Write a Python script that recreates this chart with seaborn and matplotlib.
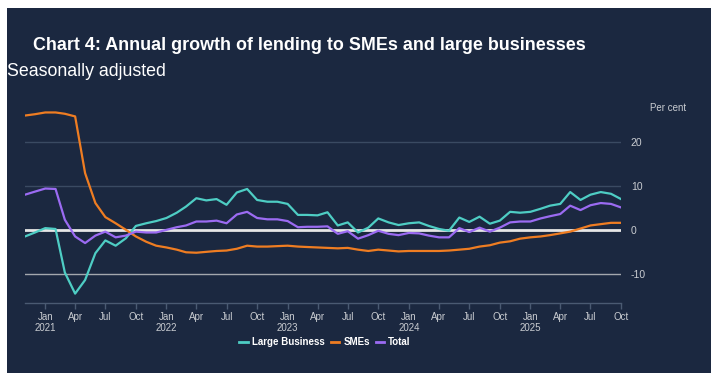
import seaborn as sns
import matplotlib.pyplot as plt
import pandas as pd

# Monthly data, Nov 2020 to Oct 2025 (annual growth, per cent)
months = pd.date_range('2020-11-01', '2025-10-01', freq='MS')

large_business = [
    -1.5, -0.6,
    0.4, 0.2, -9.7, -14.5, -11.4, -5.3, -2.4, -3.6, -1.9, 0.9, 1.5, 2.0,
    2.7, 3.9, 5.3, 7.2, 6.7, 7.0, 5.7, 8.5, 9.3, 6.8, 6.4, 6.4,
    5.9, 3.4, 3.4, 3.3, 4.0, 1.0, 1.7, -0.6, 0.5, 2.6, 1.7, 1.1,
    1.5, 1.7, 0.9, 0.2, -0.2, 2.8, 1.8, 3.0, 1.4, 2.1, 4.1, 3.9,
    4.1, 4.8, 5.5, 5.9, 8.6, 6.8, 8.0, 8.6, 8.2, 7.0,
]
smes = [
    26.0, 26.3,
    26.7, 26.7, 26.4, 25.8, 12.9, 6.1, 2.9, 1.5, 0.0, -1.5, -2.7, -3.6,
    -4.0, -4.5, -5.1, -5.2, -5.0, -4.8, -4.7, -4.3, -3.6, -3.8, -3.8, -3.7,
    -3.6, -3.8, -3.9, -4.0, -4.1, -4.2, -4.1, -4.5, -4.8, -4.5, -4.7, -4.9,
    -4.8, -4.8, -4.8, -4.8, -4.7, -4.5, -4.3, -3.8, -3.5, -2.9, -2.6, -2.0,
    -1.7, -1.5, -1.2, -0.8, -0.4, 0.3, 1.0, 1.3, 1.6, 1.6,
]
total = [
    8.0, 8.7,
    9.4, 9.3, 2.3, -1.5, -3.0, -1.3, -0.4, -1.7, -1.3, -0.4, -0.6, -0.6,
    0.0, 0.6, 1.0, 1.9, 1.9, 2.1, 1.5, 3.5, 4.1, 2.7, 2.4, 2.4,
    2.0, 0.6, 0.7, 0.7, 0.8, -0.9, -0.3, -2.0, -1.2, -0.2, -0.9, -1.2,
    -0.7, -0.8, -1.3, -1.7, -1.7, 0.4, -0.5, 0.5, -0.4, 0.5, 1.7, 1.9,
    1.9, 2.6, 3.1, 3.6, 5.5, 4.5, 5.6, 6.1, 5.9, 5.1,
]
series_names = ['Large Business', 'SMEs', 'Total']
y_ticks = [-10, 0, 10, 20]

df = pd.DataFrame({'Month': months, 'Large Business': large_business,
                   'SMEs': smes, 'Total': total})
long_df = df.melt(id_vars='Month', var_name='Series', value_name='Growth')

bg = '#1b2840'
palette = {'Large Business': '#4ecdc4', 'SMEs': '#ef7d22', 'Total': '#9b6bf2'}

plt.rcParams['font.family'] = ['Liberation Sans', 'DejaVu Sans']

fig = plt.figure(figsize=(7.11, 3.81), dpi=100, facecolor='white')

# dark panel behind everything
bg_ax = fig.add_axes([7 / 711, 1 - 373 / 381, 1, (373 - 8) / 381])
bg_ax.set_facecolor(bg)
bg_ax.set_xticks([])
bg_ax.set_yticks([])
for s in bg_ax.spines.values():
    s.set_visible(False)

ax = fig.add_axes([25 / 711, 1 - 303.3 / 381, (621 - 25) / 711, (303.3 - 108.5) / 381])
ax.set_facecolor(bg)
ax.patch.set_alpha(0)

# horizontal reference lines
ax.axhline(20, color='#3a4a62', lw=1, zorder=1)
ax.axhline(10, color='#3a4a62', lw=1, zorder=1)
ax.axhline(-10, color='#a3a7ad', lw=1, zorder=1)
ax.axhline(0, color='#e6e6e6', lw=2, zorder=1)

sns.lineplot(data=long_df, x='Month', y='Growth', hue='Series', hue_order=series_names,
             palette=palette, linewidth=1.6, ax=ax, legend=False, zorder=3)

ax.set_xlim(months[0], months[-1])
ax.set_ylim(-16.7, 27.6)
ax.set_xlabel('')
ax.set_ylabel('')

# x axis: quarterly ticks with year under January
qticks = [m for m in months if m.month in (1, 4, 7, 10)]
qlabels = [m.strftime('%b') + ('\n' + str(m.year) if m.month == 1 else '') for m in qticks]
ax.set_xticks(qticks)
ax.set_xticklabels(qlabels)
ax.tick_params(axis='x', colors='#4a5a72', length=4, width=1, labelcolor='#c9ccd1',
               labelsize=7, pad=2)

ax.yaxis.tick_right()
ax.set_yticks(y_ticks)
ax.set_yticklabels([str(v) for v in y_ticks])
ax.tick_params(axis='y', length=0, labelcolor='#c9ccd1', labelsize=7.5, pad=7)
for lbl in ax.get_yticklabels():
    lbl.set_horizontalalignment('left')

for side in ['top', 'right', 'left']:
    ax.spines[side].set_visible(False)
ax.spines['bottom'].set_color('#4a5a72')
ax.spines['bottom'].set_linewidth(1)

# titles
fig.text(33 / 711, 1 - 45 / 381, 'Chart 4: Annual growth of lending to SMEs and large businesses',
         color='white', fontsize=12.85, fontweight='bold', va='center', ha='left')
fig.text(7 / 711, 1 - 72 / 381, 'Seasonally adjusted', color='white', fontsize=12.8,
         va='center', ha='left')
fig.text(650 / 711, 1 - 108 / 381, 'Per cent', color='#c9ccd1', fontsize=7,
         va='center', ha='left')

# legend
handles = [plt.Line2D([], [], color=palette[s], lw=2) for s in series_names]
leg = fig.legend(handles, series_names, loc='center', bbox_to_anchor=(325 / 711, 1 - 342 / 381),
                 ncol=3, frameon=False, fontsize=7, handlelength=0.9, handletextpad=0.4,
                 columnspacing=0.6)
for t in leg.get_texts():
    t.set_color('white')
    t.set_fontweight('bold')

fig.savefig('out.png', dpi=100, facecolor='white')
